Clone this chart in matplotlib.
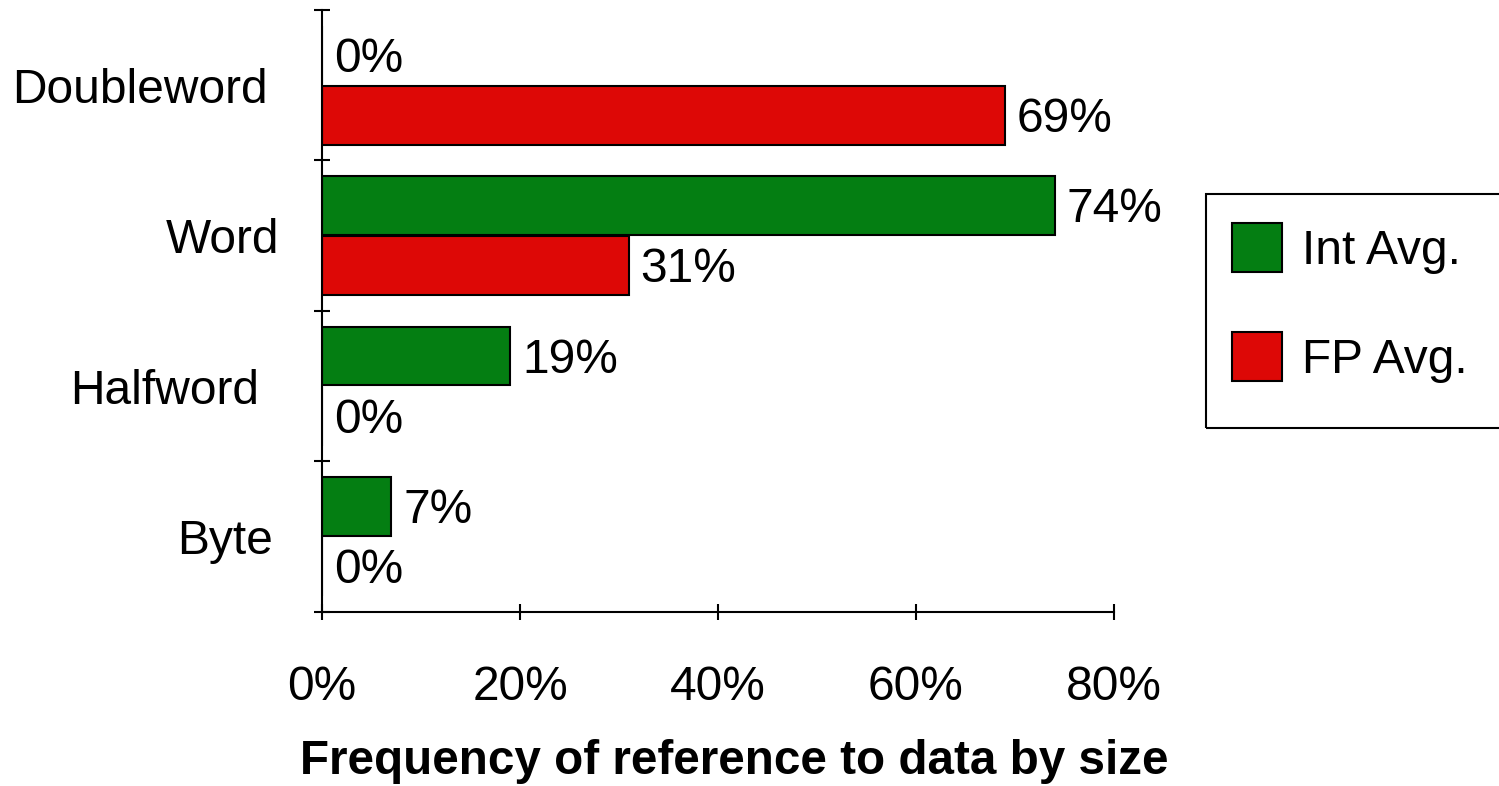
import matplotlib.pyplot as plt
from matplotlib.patches import Rectangle, Patch
from matplotlib.transforms import ScaledTranslation

plt.rcParams['font.family'] = ['Liberation Sans', 'DejaVu Sans']

# data
categories = ["Byte", "Halfword", "Word", "Doubleword"]
int_avg = [7, 19, 74, 0]
fp_avg = [0, 0, 31, 69]
x_ticks = [0, 20, 40, 60, 80]
x_tick_labels = ["0%", "20%", "40%", "60%", "80%"]

green = "#047E12"
red = "#DD0806"
fs = 34.5

fig = plt.figure(figsize=(14.99, 7.86), dpi=100)
ax = fig.add_axes([0.2148, 0.2214, 0.5284, 0.7659])

pos = list(range(len(categories)))
h = 0.39
int_bars = ax.barh([p + 0.2 for p in pos], int_avg, height=h, color=green,
                   edgecolor="black", linewidth=1.5)
fp_bars = ax.barh([p - 0.2 for p in pos], fp_avg, height=h, color=red,
                  edgecolor="black", linewidth=1.5)

# value labels
for bars, vals in [(int_bars, int_avg), (fp_bars, fp_avg)]:
    for b, v in zip(bars, vals):
        ax.annotate(f"{v}%", xy=(v, b.get_y() + b.get_height() / 2),
                    xytext=(8.5, -3), textcoords="offset points",
                    ha="left", va="center", fontsize=fs)

ax.set_xlim(0, 80)
ax.set_ylim(-0.5, len(categories) - 0.5)

ax.set_xticks(x_ticks)
ax.set_xticklabels(x_tick_labels, fontsize=fs)
ax.tick_params(axis="x", direction="inout", length=12, width=1.5, pad=32)

ax.set_yticks([p - 0.5 for p in range(len(categories) + 1)])
ax.set_yticklabels([])
ax.set_yticks(pos, minor=True)
ax.set_yticklabels(categories, minor=True, fontsize=fs)
ax.tick_params(axis="y", which="major", direction="inout", length=12, width=1.5)
ax.tick_params(axis="y", which="minor", length=0, pad=38)

# the original labels are not quite lined up on the right
shifts = [4, -10, 10, -1]
for lab, dx in zip(ax.get_yticklabels(minor=True), shifts):
    lab.set_transform(lab.get_transform() + ScaledTranslation(dx / 100, 0, fig.dpi_scale_trans))

for s in ["top", "right"]:
    ax.spines[s].set_visible(False)
for s in ["left", "bottom"]:
    ax.spines[s].set_linewidth(1.5)

fig.text(0.4897, 0.0153, "Frequency of reference to data by size",
         ha="center", va="baseline", fontsize=34.3, fontweight="bold")

# legend box (runs off the right edge like the original)
fig.patches.append(Rectangle((0.8045, 0.4555), 0.3, 0.2977, transform=fig.transFigure,
                             fill=False, edgecolor="black", linewidth=1.5, clip_on=False))
handles = [Patch(facecolor=green, edgecolor="black", linewidth=1.5),
           Patch(facecolor=red, edgecolor="black", linewidth=1.5)]
fig.legend(handles, ["Int Avg.", "FP Avg."], loc="upper left",
           bbox_to_anchor=(0.8219, 0.7163), frameon=False, fontsize=fs,
           borderpad=0, borderaxespad=0, handlelength=1.05, handleheight=1.2,
           handletextpad=0.42, labelspacing=1.22)

fig.savefig("out.png", dpi=100)
